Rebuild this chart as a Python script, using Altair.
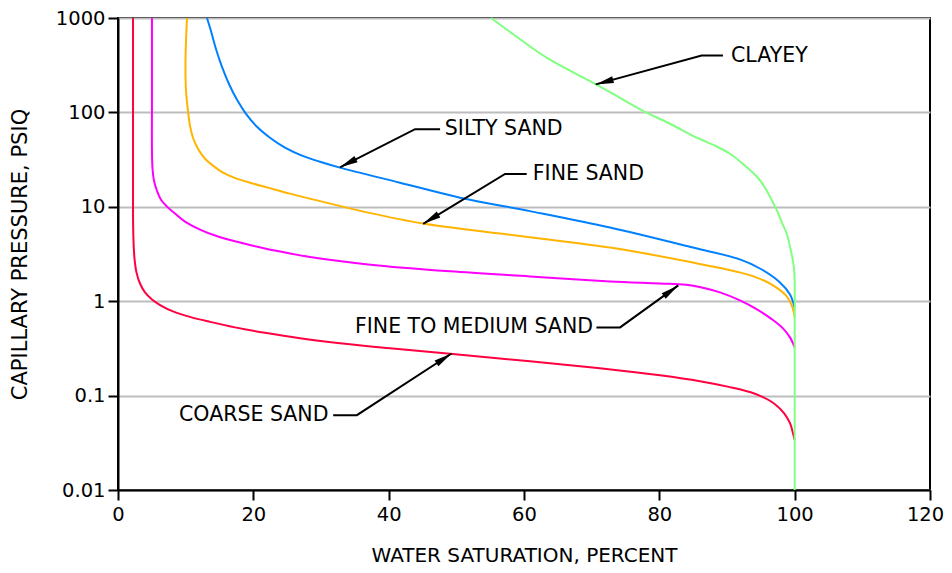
import math
import altair as alt
import pandas as pd

# ---------------- data ----------------
coarse_x = [2.22, 2.22, 2.22, 2.29, 2.44, 2.73, 3.25, 3.99, 5.02, 6.35, 8.13, 10.64, 13.60, 17.29, 21.72, 26.90, 32.81, 40.20, 49.06, 60.88, 71.23, 80.09, 86.0, 90.44, 93.39, 95.32, 97.09, 98.42, 99.31, 99.75, 100.0]
coarse_y = [1000, 39.3, 8.07, 4.39, 2.83, 2.02, 1.54, 1.24, 1.045, 0.90, 0.78, 0.682, 0.604, 0.528, 0.462, 0.404, 0.358, 0.317, 0.277, 0.231, 0.195, 0.164, 0.142, 0.123, 0.109, 0.0962, 0.0811, 0.0652, 0.0511, 0.040, 0.0338]

ftm_x = [5.02, 5.02, 5.02, 5.10, 5.32, 5.76, 6.35, 7.24, 8.42, 9.90, 12.12, 14.78, 18.03, 21.72, 25.42, 29.85, 36.95, 49.06, 60.88, 72.71, 80.09, 83.94, 86.74, 88.96, 91.92, 94.43, 96.65, 98.27, 99.31, 100.0]
ftm_y = [1000, 132.6, 39.3, 25.3, 18.9, 14.8, 11.9, 10.05, 8.48, 6.97, 5.74, 4.84, 4.18, 3.61, 3.20, 2.83, 2.45, 2.07, 1.83, 1.62, 1.54, 1.49, 1.37, 1.24, 1.02, 0.819, 0.642, 0.516, 0.414, 0.325]

fine_x = [10.20, 10.05, 9.97, 10.05, 10.34, 10.64, 11.08, 11.82, 12.86, 14.04, 15.52, 17.14, 19.51, 22.17, 25.42, 29.56, 36.95, 45.08, 56.45, 72.71, 84.97, 91.9, 94.41, 97.09, 98.71, 99.59, 100.0]
fine_y = [1000, 571, 311, 169, 104, 72.2, 53.9, 41.2, 32.3, 27.3, 23.0, 20.4, 18.0, 15.96, 13.79, 11.63, 8.68, 6.64, 5.21, 3.70, 2.57, 2.02, 1.78, 1.43, 1.15, 0.90, 0.674]

silty_x = [13.15, 13.74, 14.48, 15.37, 16.40, 17.59, 18.92, 20.54, 22.46, 24.68, 27.19, 29.85, 32.80, 41.67, 50.54, 60.88, 72.71, 84.97, 91.9, 94.87, 97.83, 99.31, 100.0]
silty_y = [1000, 729, 470, 303, 200, 136, 96.6, 70.4, 53.9, 42.3, 34.8, 30.0, 26.0, 18.0, 12.5, 9.0, 6.03, 3.70, 2.77, 2.22, 1.58, 1.18, 0.86]

clay_x = [55.12, 58.37, 63.40, 70.78, 74.18, 77.58, 81.57, 85.56, 88.22, 90.44, 92.66, 94.43, 95.61, 96.50, 97.39, 98.12, 98.82, 99.31, 99.68, 99.90, 100.0, 100.0, 100.0]
clay_y = [1000, 677, 378, 196, 142.7, 104, 75.8, 53.9, 44.4, 36.5, 27.3, 20.8, 15.96, 12.2, 9.12, 6.81, 5.21, 3.80, 2.83, 2.22, 1.66, 0.5, 0.01]

series_names = ["COARSE SAND", "FINE TO MEDIUM SAND", "FINE SAND", "SILTY SAND", "CLAYEY"]
series_colors = ["#ff0040", "#ff00ff", "#ffb400", "#0080ff", "#80ff80"]

# labels: text, text x, text y, align, leader polyline (xs, ys) ending at arrow tip
label_text = ["CLAYEY", "SILTY SAND", "FINE SAND", "FINE TO MEDIUM SAND", "COARSE SAND"]
label_x = [90.6, 48.3, 61.3, 70.2, 31.1]
label_y = [400, 66.5, 22.3, 0.528, 0.062]
label_align = ["left", "left", "left", "right", "right"]
leader_x = [[89.4, 86.25, 70.6], [47.6, 43.9, 32.8], [60.4, 57.2, 45.1], [70.7, 74.2, 82.8], [31.8, 35.3, 49.3]]
leader_y = [[400, 400, 198], [66.5, 66.5, 26.2], [22.3, 22.3, 6.6], [0.528, 0.528, 1.47], [0.062, 0.062, 0.279]]

x_ticks = [0, 20, 40, 60, 80, 100, 120]
y_ticks = [0.01, 0.1, 1, 10, 100, 1000]

# ---------------- layout ----------------
W, H = 812, 472
FONT = "DejaVu Sans"

rows = []
for name, xs, ys in zip(series_names,
                        [coarse_x, ftm_x, fine_x, silty_x, clay_x],
                        [coarse_y, ftm_y, fine_y, silty_y, clay_y]):
    for i, (a, b) in enumerate(zip(xs, ys)):
        rows.append({"series": name, "x": a, "y": b, "i": i})
curves = pd.DataFrame(rows)

lrows = []
arrows = []
for name, xs, ys in zip(label_text, leader_x, leader_y):
    for i, (a, b) in enumerate(zip(xs, ys)):
        lrows.append({"label": name, "x": a, "y": b, "i": i})
    # arrow direction in screen pixels (from elbow to tip)
    dx = (xs[2] - xs[1]) * W / 120.0
    dy = -(math.log10(ys[2]) - math.log10(ys[1])) * H / 5.0
    ang = math.degrees(math.atan2(dx, -dy)) % 360
    arrows.append({"label": name, "x": xs[2], "y": ys[2], "angle": ang})
leaders = pd.DataFrame(lrows)
arrows = pd.DataFrame(arrows)

texts = pd.DataFrame({"t": label_text, "x": label_x, "y": label_y, "align": label_align})

xscale = alt.Scale(domain=[0, 120], nice=False, zero=False)
yscale = alt.Scale(type="log", domain=[0.01, 1000], nice=False)

xaxis = alt.Axis(values=x_ticks, grid=False, title="WATER SATURATION, PERCENT",
                 labelFlush=False, labelOverlap=False, labelPadding=5,
                 labelOffset={"condition": {"test": "datum.value == 120", "value": -5}, "value": 0},
                 titleBaseline="alphabetic", titleY=71, titleFontSize=20)
yaxis = alt.Axis(values=y_ticks, grid=True, format="~g", title="CAPILLARY PRESSURE, PSIQ",
                 labelFlush=False, labelOverlap=False, labelPadding=3,
                 titleBaseline="alphabetic", titleX=-92, titleFontSize=21)

base_x = alt.X("x:Q", scale=xscale, axis=xaxis)
base_y = alt.Y("y:Q", scale=yscale, axis=yaxis)

lines = alt.Chart(curves).mark_line(strokeWidth=2, interpolate="catmull-rom").encode(
    x=base_x, y=base_y,
    color=alt.Color("series:N", scale=alt.Scale(domain=series_names, range=series_colors), legend=None),
    order="i:Q",
)

lead = alt.Chart(leaders).mark_line(strokeWidth=2, color="black").encode(
    x="x:Q", y="y:Q", detail="label:N", order="i:Q",
)

heads = alt.Chart(arrows).mark_point(
    shape="M0,0L-0.38,2L0.38,2Z", filled=True, color="black", opacity=1, size=324, strokeWidth=0
).encode(x="x:Q", y="y:Q", angle=alt.Angle("angle:Q", scale=None))

t_left = alt.Chart(texts[texts["align"] == "left"]).mark_text(
    align="left", baseline="middle", font=FONT, fontSize=20.5, color="black"
).encode(x="x:Q", y="y:Q", text="t:N")

t_right = alt.Chart(texts[texts["align"] == "right"]).mark_text(
    align="right", baseline="middle", font=FONT, fontSize=20.5, color="black"
).encode(x="x:Q", y="y:Q", text="t:N")

chart = alt.layer(lines, lead, heads, t_left, t_right).properties(
    width=W, height=H,
    autosize=alt.AutoSizeParams(type="none"),
    padding={"left": 110, "top": 10, "right": 14, "bottom": 75},
).configure_view(
    stroke="black", strokeWidth=2
).configure_axis(
    domainColor="black", domainWidth=2,
    tickColor="black", tickWidth=2, tickSize=10,
    labelFont=FONT, labelFontSize=19.5, labelColor="black",
    titleFont=FONT, titleFontWeight="normal", titleColor="black",
    gridColor="#bdbdbd", gridWidth=2,
)

chart.save("out.html", embed_options={"renderer": "svg", "actions": False})
